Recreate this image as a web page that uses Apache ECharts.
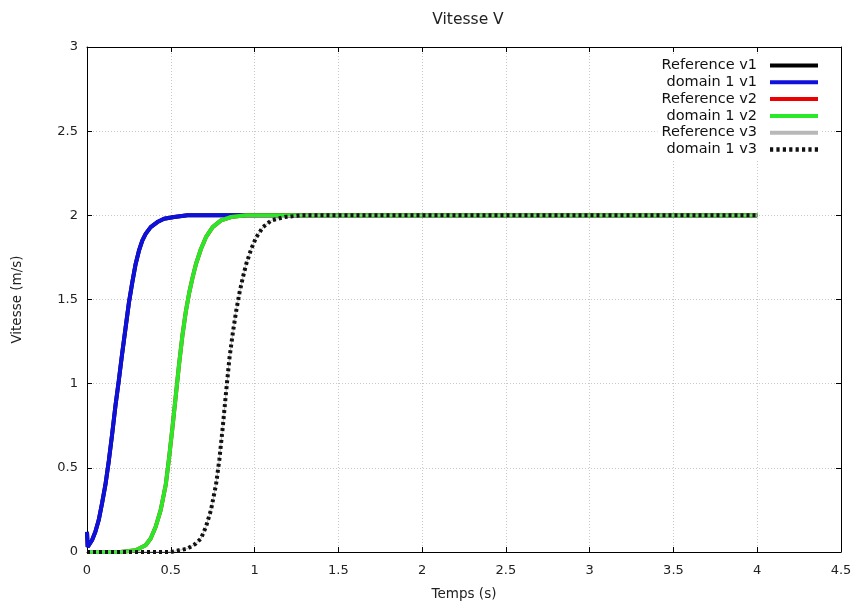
<!DOCTYPE html>
<html>
<head>
<meta charset="utf-8">
<script src="https://cdn.jsdelivr.net/npm/echarts@6/dist/echarts.min.js"></script>
<style>
  html, body { margin: 0; padding: 0; background: #fff; }
  #chart { width: 854px; height: 604px; }
</style>
</head>
<body>
<div id="chart"></div>
<script>
// Velocity profiles, time (s) vs velocity (m/s)
const t1 = [0, 0.004, 0.03, 0.05, 0.07, 0.09, 0.11, 0.13, 0.15, 0.17, 0.19, 0.21, 0.23, 0.25, 0.27, 0.29, 0.31, 0.33, 0.35, 0.38, 0.42, 0.46, 0.52, 0.6, 4];
const v1 = [0.12, 0.03, 0.07, 0.12, 0.19, 0.29, 0.40, 0.54, 0.70, 0.87, 1.02, 1.18, 1.33, 1.48, 1.60, 1.71, 1.79, 1.85, 1.89, 1.93, 1.96, 1.98, 1.99, 2.0, 2.0];

const t2 = [0, 0.2, 0.29, 0.35, 0.38, 0.41, 0.44, 0.47, 0.49, 0.51, 0.53, 0.55, 0.57, 0.59, 0.61, 0.63, 0.65, 0.68, 0.71, 0.75, 0.8, 0.86, 0.95, 4];
const v2 = [0, 0, 0.01, 0.04, 0.08, 0.15, 0.25, 0.40, 0.56, 0.74, 0.93, 1.12, 1.29, 1.43, 1.54, 1.63, 1.71, 1.80, 1.87, 1.93, 1.97, 1.99, 2.0, 2.0];

const t3 = [0, 0.5, 0.55, 0.6, 0.65, 0.68, 0.71, 0.74, 0.77, 0.79, 0.81, 0.83, 0.85, 0.87, 0.89, 0.91, 0.93, 0.95, 0.98, 1.01, 1.05, 1.1, 1.18, 1.28, 4];
const v3 = [0, 0, 0.01, 0.02, 0.05, 0.08, 0.15, 0.25, 0.40, 0.55, 0.74, 0.95, 1.15, 1.30, 1.43, 1.54, 1.63, 1.71, 1.80, 1.87, 1.93, 1.97, 1.99, 2.0, 2.0];

const seriesNames = ['Reference v1', 'domain 1 v1', 'Reference v2', 'domain 1 v2', 'Reference v3', 'domain 1 v3'];
const seriesColors = ['#000000', '#1010dd', '#ee0000', '#28e828', '#b8b8b8', '#111111'];

const xTicks = { min: 0, max: 4.5, interval: 0.5 };
const yTicks = { min: 0, max: 3, interval: 0.5 };

const pairs = (ts, vs) => ts.map((t, i) => [t, vs[i]]);
const curves = [pairs(t1, v1), pairs(t1, v1), pairs(t2, v2), pairs(t2, v2), pairs(t3, v3), pairs(t3, v3)];

const font = 'DejaVu Sans, Liberation Sans, sans-serif';

// Legend keys: a solid bar, or a row of square dots for the dotted curve
const solidKey = 'path://M0,0h48v4h-48z';
let dots = '';
for (let x = 0; x < 48; x += 6) dots += 'M' + x + ',0h3v4h-3z';
const dottedKey = 'path://' + dots;

const series = seriesNames.map((name, i) => {
  const isDotted = i === 5;
  const isRef3 = i === 4;
  return {
    name,
    type: 'line',
    xAxisIndex: 0,
    yAxisIndex: 0,
    data: curves[i],
    showSymbol: false,
    symbol: 'none',
    smooth: false,
    z: 2 + i,
    lineStyle: {
      color: seriesColors[i],
      width: isRef3 ? 1 : 4,
      type: isDotted ? [3, 3] : 'solid',
      cap: 'butt'
    },
    itemStyle: { color: seriesColors[i] }
  };
});

const chart = echarts.init(document.getElementById('chart'), null, { renderer: 'canvas' });

const axisLine = { show: true, onZero: false, lineStyle: { color: '#000', width: 1 } };
const tick = { show: true, inside: true, length: 5, lineStyle: { color: '#000' } };
const grid = { show: true, lineStyle: { color: '#c8c8c8', type: [1, 2], width: 1 } };

chart.setOption({
  backgroundColor: '#fff',
  animation: false,
  title: {
    text: 'Vitesse V',
    left: 463,
    top: 7,
    textAlign: 'center',
    textStyle: { fontFamily: font, fontSize: 15.5, fontWeight: 'normal', color: '#222' }
  },
  grid: { left: 87, right: 13, top: 47, bottom: 52, containLabel: false, outerBoundsMode: 'none' },
  legend: {
    orient: 'vertical',
    right: 32,
    top: 56,
    align: 'right',
    itemWidth: 48,
    itemHeight: 14,
    itemGap: 1.8,
    backgroundColor: '#fff',
    padding: [2, 4, 2, 4],
    textStyle: { fontFamily: font, fontSize: 14.5, lineHeight: 15, color: '#111', padding: [0, 8, 0, 0] },
    data: seriesNames.map((n, i) => ({ name: n, icon: i === 5 ? dottedKey : solidKey }))
  },
  xAxis: [
    {
      type: 'value', position: 'bottom', ...xTicks,
      name: 'Temps (s)', nameLocation: 'middle', nameGap: 35,
      nameTextStyle: { fontFamily: font, fontSize: 13.5, color: '#222' },
      axisLine, axisTick: tick, splitLine: grid,
      axisLabel: { fontFamily: font, fontSize: 13, color: '#222', margin: 12 }
    },
    {
      type: 'value', position: 'top', ...xTicks,
      axisLine, axisTick: tick, splitLine: { show: false }, axisLabel: { show: false }
    }
  ],
  yAxis: [
    {
      type: 'value', position: 'left', ...yTicks,
      name: 'Vitesse (m/s)', nameLocation: 'middle', nameGap: 63, nameRotate: 90,
      nameTextStyle: { fontFamily: font, fontSize: 13.5, color: '#222' },
      axisLine, axisTick: tick, splitLine: grid,
      axisLabel: { fontFamily: font, fontSize: 13, color: '#222', margin: 9 }
    },
    {
      type: 'value', position: 'right', ...yTicks,
      axisLine, axisTick: tick, splitLine: { show: false }, axisLabel: { show: false }
    }
  ],
  series
});
</script>
</body>
</html>
